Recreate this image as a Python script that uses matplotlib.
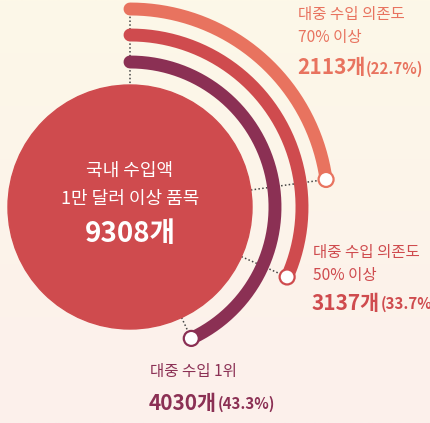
import numpy as np
import matplotlib.pyplot as plt
from matplotlib.patches import Circle

plt.rcParams['font.family'] = ['Noto Sans CJK KR', 'DejaVu Sans']

# data
total = 9308
labels = ['대중 수입 의존도\n70% 이상', '대중 수입 의존도\n50% 이상', '대중 수입 1위']
counts = [2113, 3137, 4030]
shares = [22.7, 33.7, 43.3]
arc_deg = [82, 114, 155]          # arc sweep as drawn in the picture
colors = ['#e8735f', '#cf4b4e', '#8b3054']

W, H = 431, 423
fig = plt.figure(figsize=(W / 100, H / 100), dpi=100)
ax = fig.add_axes([0, 0, 1, 1])
ax.set_xlim(0, W)
ax.set_ylim(H, 0)
ax.axis('off')

# background gradient cream -> pale pink
top = np.array([253, 248, 232]) / 255
bot = np.array([252, 240, 236]) / 255
t = np.linspace(0, 1, 200)[:, None, None]
grad = top * (1 - t) + bot * t
ax.imshow(grad, extent=[0, W, H, 0], aspect='auto', zorder=0)

cx, cy, r0 = 130, 207, 122
radii = [198, 172, 145]

# dotted guide lines
ax.plot([cx, cx], [cy - radii[0], cy - r0], ls=(0, (1, 1.5)), color='#444444', lw=1.1, zorder=1)
for r, d in zip(radii, arc_deg):
    a = np.deg2rad(d)
    ax.plot([cx + r0 * np.sin(a), cx + r * np.sin(a)],
            [cy - r0 * np.cos(a), cy - r * np.cos(a)],
            ls=(0, (1, 1.5)), color='#444444', lw=1.1, zorder=1)

# center circle
ax.add_patch(Circle((cx, cy), r0, color='#cf4b4e', zorder=2))

# arcs
for r, d, c in zip(radii, arc_deg, colors):
    a = np.deg2rad(np.linspace(0, d, 200))
    ax.plot(cx + r * np.sin(a), cy - r * np.cos(a), color=c, lw=9.3,
            solid_capstyle='round', zorder=3)
    e = np.deg2rad(d)
    ax.add_patch(Circle((cx + r * np.sin(e), cy - r * np.cos(e)), 7.5,
                        facecolor='white', edgecolor=c, lw=1.6, zorder=4))

# center text
ax.text(cx, 171, '국내 수입액', color='white', fontsize=13, fontweight='medium',
        ha='center', va='center', zorder=5)
ax.text(cx, 199, '1만 달러 이상 품목', color='white', fontsize=13, fontweight='medium',
        ha='center', va='center', zorder=5)
ax.text(cx, 234, f'{total}개', color='white', fontsize=20, fontweight='bold',
        ha='center', va='center', zorder=5)

# labels
pos = [(298, 26, 68), (313, 264, 303), (150, 371, 403)]
for (x, y1, y2), lab, n, s, c in zip(pos, labels, counts, shares, colors):
    ax.text(x, y1, lab, color=c, fontsize=11.2, fontweight='medium', ha='left',
            va='center', linespacing=1.45, zorder=5)
    t1 = ax.text(x - 1, y2, f'{n}개', color=c, fontsize=15, fontweight='bold',
                 ha='left', va='center', zorder=5)
    fig.canvas.draw()
    bb = t1.get_window_extent().transformed(ax.transData.inverted())
    ax.text(bb.x1 + 0.5, y2 + 1, f'({s}%)', color=c, fontsize=10.8, fontweight='bold',
            ha='left', va='center', zorder=5)

fig.savefig('out.png', dpi=100)
